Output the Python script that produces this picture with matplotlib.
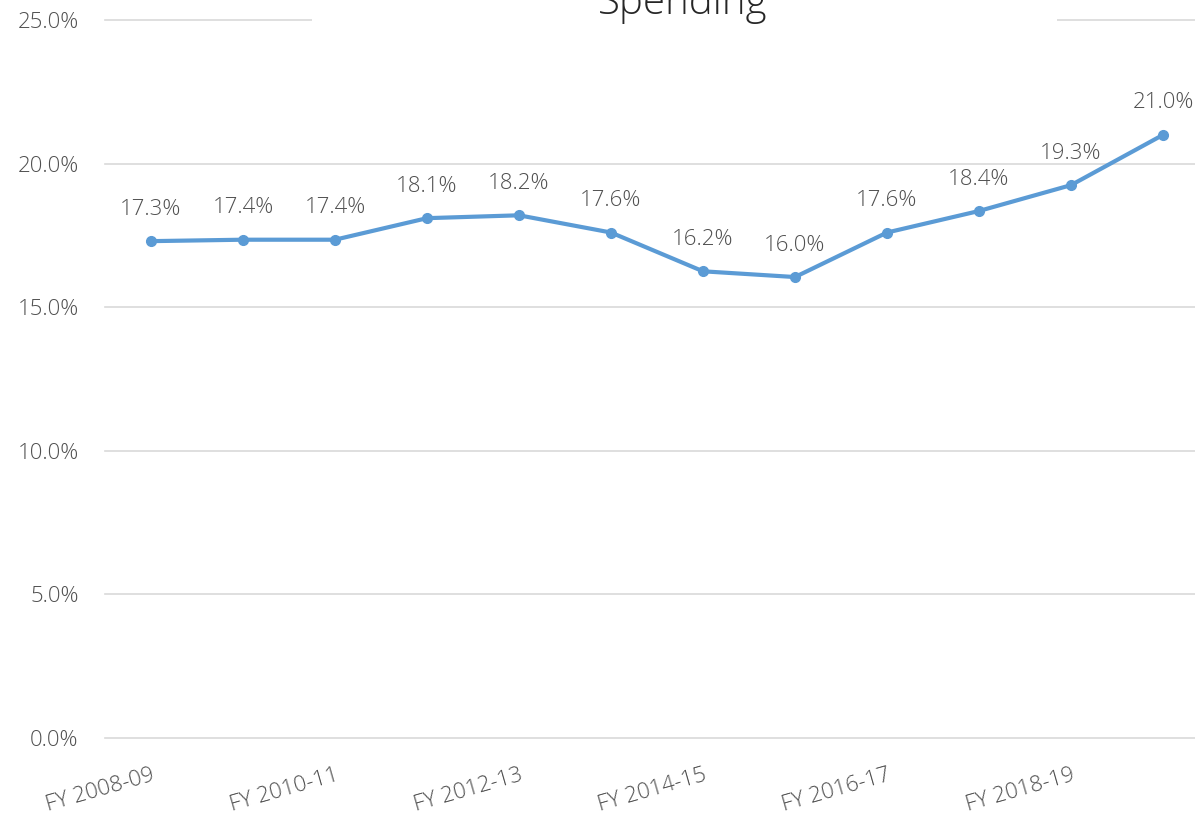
import matplotlib
matplotlib.use("Agg")
import matplotlib.pyplot as plt
from matplotlib.patches import Rectangle
from matplotlib.ticker import FuncFormatter

# --- DATA ---
years = ["FY 2008-09", "FY 2009-10", "FY 2010-11", "FY 2011-12", "FY 2012-13", "FY 2013-14",
         "FY 2014-15", "FY 2015-16", "FY 2016-17", "FY 2017-18", "FY 2018-19", "FY 2019-20"]
spending = [17.3, 17.35, 17.35, 18.1, 18.2, 17.6, 16.25, 16.05, 17.6, 18.35, 19.25, 21.0]
spending_labels = ["17.3%", "17.4%", "17.4%", "18.1%", "18.2%", "17.6%",
                   "16.2%", "16.0%", "17.6%", "18.4%", "19.3%", "21.0%"]
title = "Spending"

plt.rcParams['font.family'] = ["Open Sans", "DejaVu Sans"]
plt.rcParams['font.weight'] = "light"
text_grey = "#505050"
line_blue = "#5B9BD5"

fig = plt.figure(figsize=(11.95, 8.18), dpi=100)
ax = fig.add_axes([105 / 1195, 1 - 738 / 818, 1104 / 1195, 718 / 818])

x = list(range(len(years)))
ax.plot(x, spending, color=line_blue, lw=3, marker="o", ms=7, zorder=3)

for xi, yi, lab in zip(x, spending, spending_labels):
    ax.annotate(lab, (xi, yi), xytext=(0, 23), textcoords="offset points",
                ha="center", va="center", fontsize=16, color=text_grey)

ax.set_xlim(-0.5, len(years) - 0.5)
ax.set_ylim(0, 25)
ax.set_yticks([0, 5, 10, 15, 20, 25])
ax.yaxis.set_major_formatter(FuncFormatter(lambda v, p: f"{v:.1f}%"))
ax.set_xticks(x[::2])
ax.set_xticklabels(years[::2], rotation=16, ha="right", rotation_mode="anchor")

ax.tick_params(axis="both", length=0, labelsize=16, labelcolor=text_grey)
ax.tick_params(axis="x", pad=19)
ax.tick_params(axis="y", pad=19)

ax.grid(axis="y", color="#D9D9D9", lw=1.2)
ax.set_axisbelow(True)
for gl in ax.get_ygridlines():
    gl.set_clip_on(False)
for s in ax.spines.values():
    s.set_visible(False)

# title box hides the top gridline
fig.patches.append(Rectangle((312 / 1195, 0.95), (1057 - 312) / 1195, 0.06,
                             transform=fig.transFigure, facecolor="white",
                             edgecolor="none", zorder=5))
fig.text(683 / 1195, 1 - 14 / 818, title, ha="center", va="baseline",
         fontsize=29, color="#262626", zorder=6)

fig.savefig("out.png", dpi=100)
